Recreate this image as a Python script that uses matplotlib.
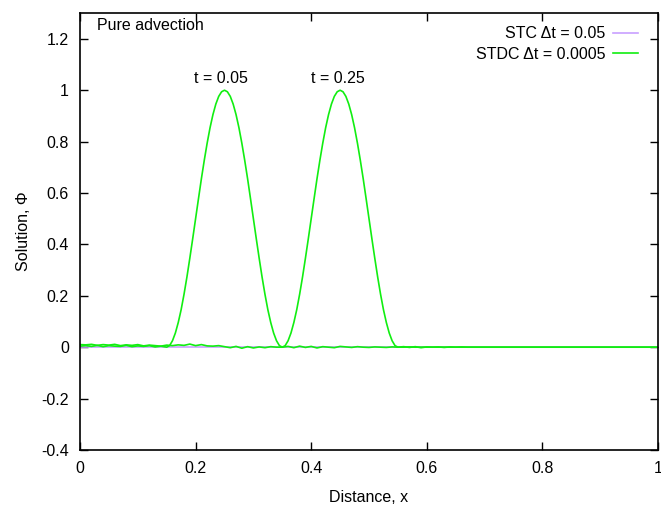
# Pure advection: STC vs STDC solution profiles at two times
import numpy as np
import matplotlib.pyplot as plt
from matplotlib.ticker import FormatStrFormatter

plt.rcParams["font.family"] = ["Liberation Sans", "DejaVu Sans"]
plt.rcParams["axes.unicode_minus"] = False

pulse_vals = [
    0.000, 0.006, 0.025, 0.055, 0.096, 0.146, 0.206, 0.273, 0.346, 0.422,
    0.500, 0.578, 0.655, 0.727, 0.794, 0.854, 0.905, 0.946, 0.976, 0.994,
    1.000, 0.994, 0.976, 0.946, 0.905, 0.854, 0.794, 0.727, 0.655, 0.578,
    0.500, 0.422, 0.346, 0.273, 0.206, 0.146, 0.096, 0.055, 0.025, 0.006,
    0.000,
]

# STDC at t = 0.05: wiggles ahead of the pulse (x = 0.00..0.14), pulse
# from 0.15 to 0.35, then the tail (x = 0.36..1.00)
t005_head = [0.010, 0.009, 0.011, 0.007, 0.010, 0.008, 0.011, 0.006, 0.009,
             0.007, 0.010, 0.005, 0.008, 0.006, 0.004]
t005_tail = [0.003, -0.002, 0.004, -0.001, 0.003, -0.003, 0.002, 0.000,
             -0.002, 0.003, 0.001, -0.001, 0.002, 0.000, -0.001, 0.001,
             0.000, -0.001, 0.001, 0.000, 0.000, 0.001, 0.000, 0.000] + [0.0] * 41

# STDC at t = 0.25: wiggles x = 0.00..0.34, pulse 0.35..0.55, tail 0.56..1.00
t025_head = [0.004, 0.006, 0.003, 0.007, 0.002, 0.006, 0.004, 0.003, 0.007,
             0.002, 0.005, 0.003, 0.006, 0.001, 0.004, 0.008, 0.006, 0.009,
             0.007, 0.012, 0.006, 0.010, 0.005, 0.004, 0.006, 0.002, -0.002,
             0.003, -0.004, 0.002, -0.003, 0.001, -0.002, 0.002, 0.000]
t025_tail = [0.002, -0.001, 0.002, -0.002, 0.001, 0.000, 0.001, -0.001,
             0.001, 0.000, 0.001, 0.000] + [0.0] * 33

step = 0.01
pulse_step = 0.005

def build_x(n_head, pulse_start, n_tail):
    head = np.arange(n_head) * step
    pulse = pulse_start + np.arange(len(pulse_vals)) * pulse_step
    tail = pulse[-1] + step + np.arange(n_tail) * step
    return np.concatenate([head, pulse, tail])

x_a = build_x(len(t005_head), 0.15, len(t005_tail))
y_a = t005_head + pulse_vals + t005_tail
x_b = build_x(len(t025_head), 0.35, len(t025_tail))
y_b = t025_head + pulse_vals + t025_tail

# STC solution (stays at zero)
stc_x = [0.0, 1.0]
stc_vals = [0.0, 0.0]

x_ticks = [0, 0.2, 0.4, 0.6, 0.8, 1.0]
y_ticks = [-0.4, -0.2, 0, 0.2, 0.4, 0.6, 0.8, 1.0, 1.2]

fig = plt.figure(figsize=(6.61, 5.05), dpi=100)
ax = fig.add_axes([0.121, 0.109, 0.8745, 0.865])

purple = "#c8a0ff"
green = "#11ee11"

ax.plot(stc_x, stc_vals, color=purple, lw=1.2, label="STC Δt = 0.05")
ax.plot(x_a, y_a, color=green, lw=1.2, label="STDC Δt = 0.0005")
ax.plot(x_b, y_b, color=green, lw=1.2)

ax.set_xlim(0, 1)
ax.set_ylim(-0.4, 1.3)
ax.set_xticks(x_ticks)
ax.set_yticks(y_ticks)
ax.xaxis.set_major_formatter(FormatStrFormatter("%g"))
ax.yaxis.set_major_formatter(FormatStrFormatter("%g"))
ax.tick_params(direction="in", length=6, width=1, top=True, right=True,
               labelsize=11.5, pad=8)
for sp in ax.spines.values():
    sp.set_linewidth(1.2)

ax.set_xlabel("Distance, x", fontsize=11.5, labelpad=10)
ax.set_ylabel("Solution, Φ", fontsize=11.5, labelpad=7)

ax.text(0.029, 1.25, "Pure advection", fontsize=11.5, ha="left", va="center")
ax.text(0.244, 1.047, "t = 0.05", fontsize=11.5, ha="center", va="center")
ax.text(0.447, 1.047, "t = 0.25", fontsize=11.5, ha="center", va="center")

ax.legend(loc="upper right", bbox_to_anchor=(0.985, 0.995), frameon=False,
          markerfirst=False, fontsize=11.5, handlelength=1.56,
          handletextpad=0.5, borderaxespad=0.3, labelspacing=0.35)

fig.savefig("out.png", dpi=100)
